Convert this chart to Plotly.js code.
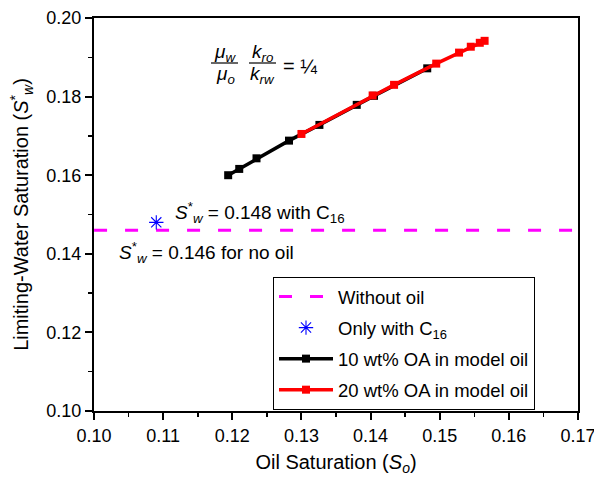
<!DOCTYPE html>
<html>
<head>
<meta charset="utf-8">
<script src="https://cdn.plot.ly/plotly-3.0.1.min.js"></script>
<style>html,body{margin:0;padding:0;background:#fff;}#chart{width:594px;height:477px;}</style>
</head>
<body>
<div id="chart"></div>
<script>
// ---- data ----
const noOilX = [0.10, 0.17];
const noOilY = [0.146, 0.146];
const c16X = [0.109];
const c16Y = [0.148];
const oa10X = [0.1194, 0.1210, 0.1235, 0.1282, 0.1326, 0.1380, 0.1405, 0.1482];
const oa10Y = [0.1600, 0.1616, 0.1643, 0.1688, 0.1728, 0.1779, 0.1802, 0.1872];
const oa20X = [0.1300, 0.1403, 0.1434, 0.1495, 0.1528, 0.1545, 0.1558, 0.1565];
const oa20Y = [0.1705, 0.1803, 0.1830, 0.1884, 0.1912, 0.1927, 0.1937, 0.1942];
const names = ['Without oil', 'Only with C<sub>16</sub>', '10 wt% OA in model oil', '20 wt% OA in model oil'];
const xTicks = [0.10, 0.11, 0.12, 0.13, 0.14, 0.15, 0.16, 0.17];
const yTicks = [0.10, 0.12, 0.14, 0.16, 0.18, 0.20];

// ---- layout helpers (pixel -> paper) ----
const W = 594, H = 477, L = 94, R = 16, T = 18, B = 66;
const PW = W - L - R, PH = H - T - B;
const px = x => (x - L) / PW;
const py = y => 1 - (y - T) / PH;
const FONT = 'Liberation Sans, Arial, Helvetica, sans-serif';

const traces = [
  {x: noOilX, y: noOilY, name: names[0], mode: 'lines', legendgroup: 'a',
   line: {color: '#ff00ff', width: 3, dash: '13px,18px'}},
  {x: c16X, y: c16Y, name: names[1], mode: 'markers', legendgroup: 'b',
   marker: {symbol: 'asterisk-open', size: 12, color: '#0000ff', line: {color: '#0000ff', width: 1.1}}},
  {x: oa10X, y: oa10Y, name: names[2], mode: 'lines+markers', legendgroup: 'c',
   line: {color: '#000000', width: 3.5}, marker: {symbol: 'square', size: 8, color: '#000000'}},
  {x: oa20X, y: oa20Y, name: names[3], mode: 'lines+markers', legendgroup: 'd',
   line: {color: '#ff0000', width: 3.5}, marker: {symbol: 'square', size: 8, color: '#ff0000'}}
];

const annFont = {family: FONT, size: 19, color: '#000'};
const annotations = [
  {text: '<i>μ</i><sub><i>w</i></sub>', x: px(225), y: py(53)},
  {text: '<i>μ</i><sub><i>o</i></sub>', x: px(225), y: py(75)},
  {text: '<i>k</i><sub><i>ro</i></sub>', x: px(262), y: py(53)},
  {text: '<i>k</i><sub><i>rw</i></sub>', x: px(262), y: py(75)},
  {text: '= ¼', x: px(300), y: py(66), font: {family: FONT, size: 20, color: '#000'}},
  {text: '<i>S</i><sup>*</sup><sub><i>w</i></sub> = 0.148 with C<sub>16</sub>', x: px(173), y: py(212), xanchor: 'left'},
  {text: '<i>S</i><sup>*</sup><sub><i>w</i></sub> = 0.146 for no oil', x: px(117), y: py(253), xanchor: 'left'}
].map(a => Object.assign({xref: 'paper', yref: 'paper', showarrow: false, font: annFont, xanchor: 'center', yanchor: 'middle'}, a));

const shapes = [
  {type: 'line', xref: 'paper', yref: 'paper', x0: px(211), x1: px(238), y0: py(63), y1: py(63), line: {color: '#000', width: 1.2}},
  {type: 'line', xref: 'paper', yref: 'paper', x0: px(249), x1: px(276), y0: py(63), y1: py(63), line: {color: '#000', width: 1.2}}
];

const axisCommon = {
  showline: true, linecolor: '#000', linewidth: 2, mirror: true,
  ticks: 'outside', ticklen: 7, tickwidth: 2, tickcolor: '#000',
  showgrid: false, zeroline: false, ticklabeloverflow: 'allow',
  tickfont: {family: FONT, size: 18, color: '#000'}
};

const layout = {
  width: W, height: H,
  margin: {l: L, r: R, t: T, b: B},
  paper_bgcolor: '#fff', plot_bgcolor: '#fff',
  font: {family: FONT, color: '#000'},
  showlegend: true,
  xaxis: Object.assign({}, axisCommon, {
    range: [0.09999, 0.17001], tickvals: xTicks, tickformat: '.2f',
    minor: {dtick: 0.005, ticks: 'outside', ticklen: 4, tickwidth: 1.5, tickcolor: '#000'},
    title: {text: 'Oil Saturation (<i>S</i><sub><i>o</i></sub>)', font: {family: FONT, size: 20, color: '#000'}, standoff: 10}
  }),
  yaxis: Object.assign({}, axisCommon, {
    range: [0.09999, 0.20001], tickvals: yTicks, tickformat: '.2f',
    minor: {dtick: 0.01, ticks: 'outside', ticklen: 4, tickwidth: 1.5, tickcolor: '#000'},
    title: {text: 'Limiting-Water Saturation (<i>S</i><sup>*</sup><sub><i>w</i></sub>)', font: {family: FONT, size: 20, color: '#000'}, standoff: 12}
  }),
  legend: {
    x: px(273), y: py(277), xanchor: 'left', yanchor: 'top',
    bgcolor: '#fff', bordercolor: '#000', borderwidth: 1,
    font: {family: FONT, size: 18.5, color: '#000'},
    itemwidth: 54, tracegroupgap: 4, traceorder: 'grouped'
  },
  annotations: annotations,
  shapes: shapes
};

Plotly.newPlot('chart', traces, layout, {displayModeBar: false, staticPlot: true});
</script>
</body>
</html>
